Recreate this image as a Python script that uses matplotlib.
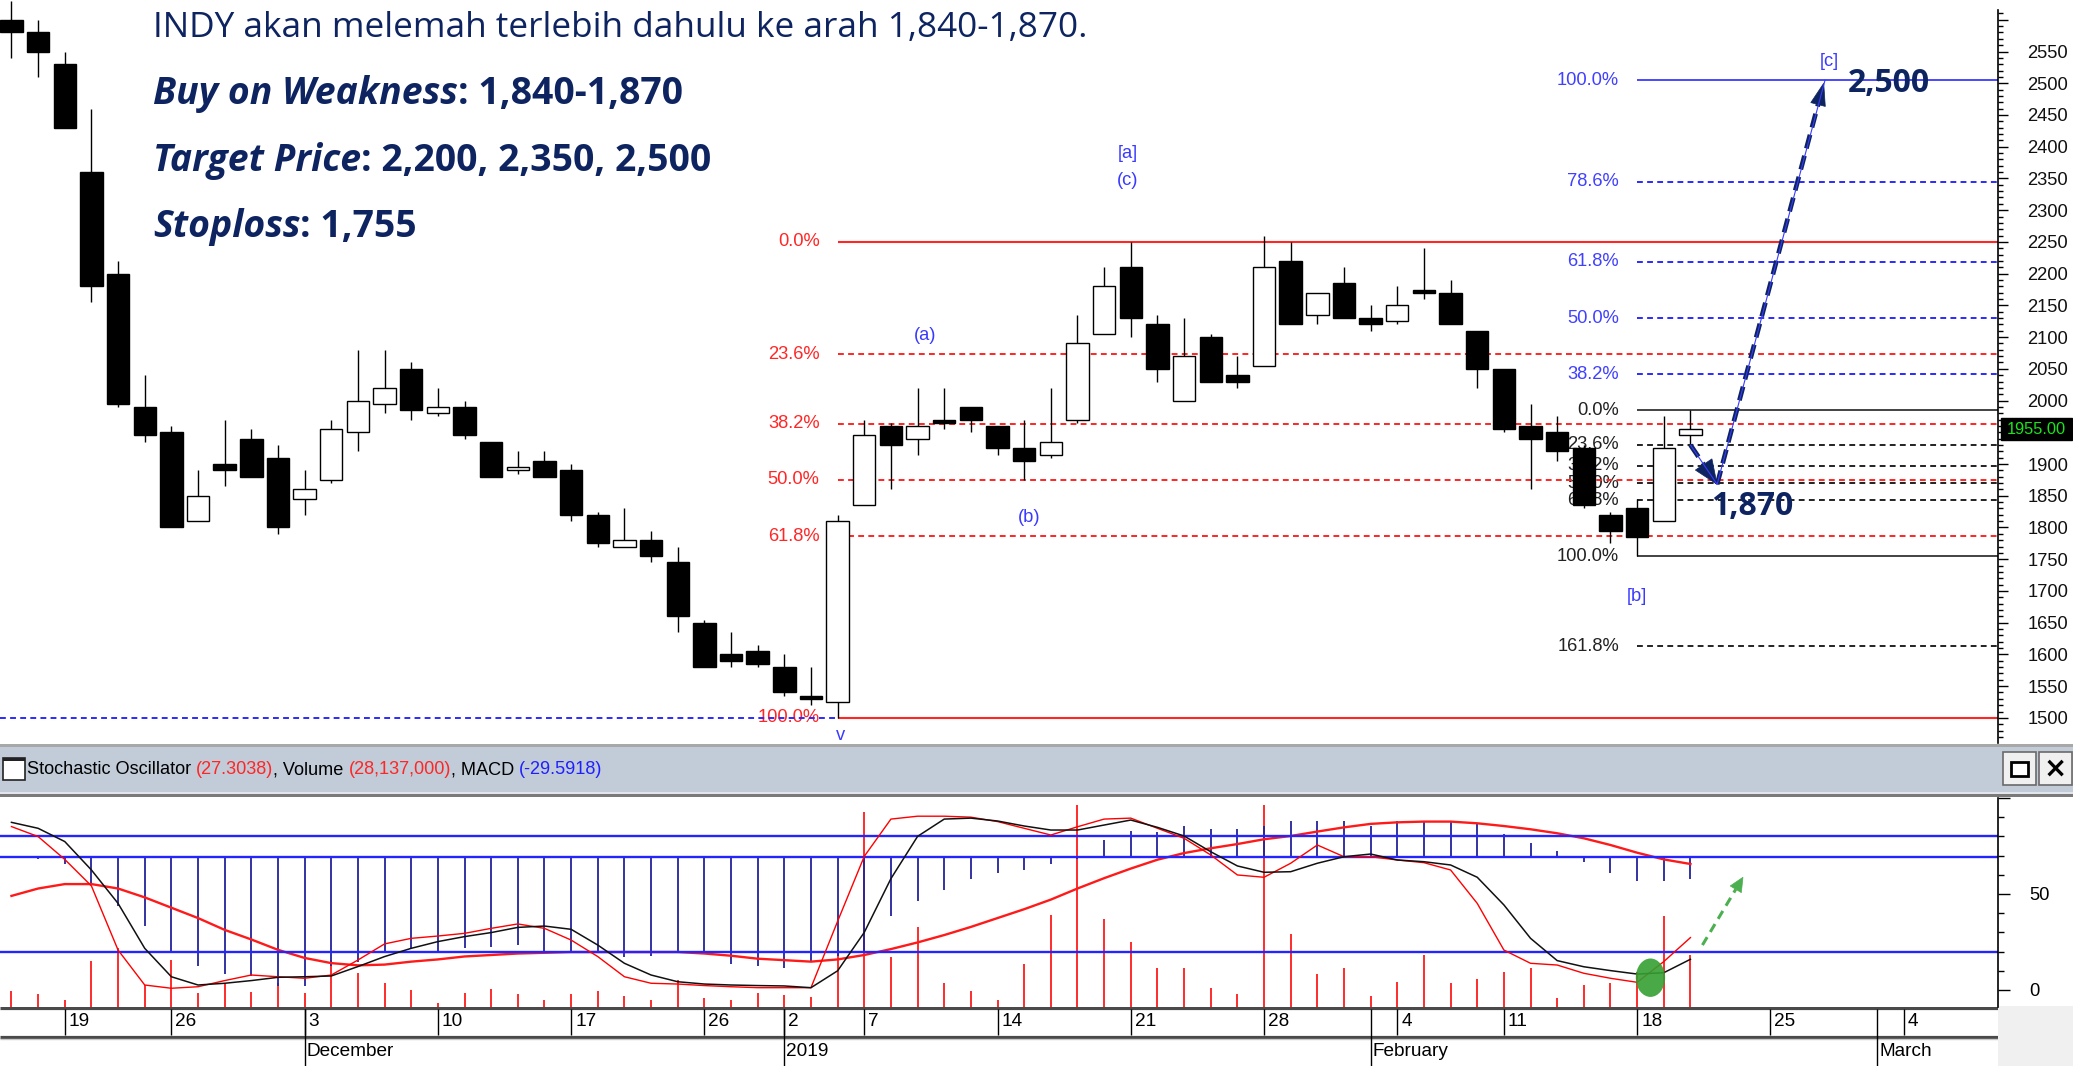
import numpy as np
import matplotlib
matplotlib.use("Agg")
import matplotlib.pyplot as plt
from matplotlib import font_manager
from matplotlib.patches import Rectangle, Ellipse, Polygon
from matplotlib.transforms import blended_transform_factory

# ---------------- data ----------------
start_index = -2          # trading-day index of the first candle (0 = 19 Nov 2018)
opens = [2600, 2580, 2530, 2360, 2200, 1990, 1950, 1810, 1900, 1940,
         1910, 1845, 1875, 1950, 1995, 2050, 1980, 1990, 1935, 1890,
         1905, 1890, 1820, 1770, 1780, 1745, 1650, 1600, 1605, 1580,
         1535, 1525, 1835, 1960, 1940, 1970, 1990, 1960, 1925, 1915,
         1970, 2105, 2210, 2120, 2000, 2100, 2040, 2055, 2220, 2135,
         2185, 2130, 2125, 2175, 2170, 2110, 2050, 1960, 1950, 1925,
         1820, 1830, 1810, 1945]
highs = [2630, 2600, 2550, 2460, 2220, 2040, 1960, 1890, 1970, 1955,
         1930, 1890, 1970, 2080, 2080, 2060, 2020, 2000, 1935, 1920,
         1920, 1900, 1825, 1830, 1795, 1770, 1655, 1635, 1615, 1600,
         1580, 1820, 1970, 1965, 2020, 2020, 1990, 1960, 1970, 2020,
         2135, 2210, 2250, 2135, 2130, 2105, 2070, 2260, 2250, 2170,
         2210, 2150, 2180, 2240, 2190, 2110, 2050, 1995, 1975, 1930,
         1825, 1845, 1975, 1985]
lows = [2540, 2510, 2430, 2155, 1990, 1935, 1800, 1810, 1865, 1880,
        1790, 1820, 1870, 1920, 1980, 1970, 1975, 1940, 1880, 1885,
        1880, 1810, 1770, 1770, 1745, 1635, 1580, 1580, 1580, 1535,
        1520, 1500, 1835, 1860, 1915, 1955, 1950, 1915, 1875, 1910,
        1965, 2105, 2100, 2030, 2000, 2030, 2020, 2055, 2120, 2120,
        2130, 2110, 2120, 2160, 2120, 2020, 1950, 1860, 1905, 1830,
        1775, 1755, 1810, 1930]
closes = [2580, 2550, 2430, 2180, 1995, 1945, 1800, 1850, 1890, 1880,
          1800, 1860, 1955, 2000, 2020, 1985, 1990, 1945, 1880, 1895,
          1880, 1820, 1775, 1780, 1755, 1660, 1580, 1590, 1585, 1540,
          1530, 1810, 1945, 1930, 1960, 1965, 1970, 1925, 1905, 1935,
          2090, 2180, 2130, 2050, 2070, 2030, 2030, 2210, 2120, 2170,
          2130, 2120, 2150, 2170, 2120, 2050, 1955, 1940, 1920, 1835,
          1795, 1785, 1925, 1955]

stoch_k = [85.1, 79.9, 68.0, 54.2, 20.8, 2.6, 0.9, 1.7, 4.9, 7.8,
           6.9, 6.1, 7.8, 15.6, 24.0, 26.9, 28.1, 29.5, 32.1, 34.4,
           32.1, 26.0, 17.4, 6.9, 3.5, 3.1, 2.3, 1.7, 1.2, 1.2,
           1.2, 35.8, 69.6, 89.0, 90.5, 90.5, 90.0, 87.7, 84.2, 80.7,
           85.0, 89.0, 89.5, 84.2, 79.0, 70.3, 59.9, 58.7, 66.0, 75.5,
           69.4, 69.4, 67.7, 66.3, 62.5, 45.1, 20.8, 13.9, 13.0, 8.7,
           6.1, 4.0, 14.8, 27.3]
stoch_d = [87.3, 84.2, 77.3, 62.5, 45.1, 21.7, 6.9, 2.6, 3.5, 4.9,
           6.6, 6.9, 7.3, 12.2, 17.4, 21.7, 25.2, 27.8, 29.9, 32.6,
           33.3, 31.6, 23.4, 13.9, 7.8, 4.3, 3.1, 2.6, 2.3, 2.1,
           1.2, 10.0, 30.0, 58.0, 80.0, 89.0, 89.5, 88.0, 85.4, 83.3,
           83.3, 85.9, 88.5, 84.7, 80.2, 72.0, 64.6, 61.3, 61.6, 66.0,
           69.4, 70.8, 67.7, 66.8, 65.1, 58.7, 44.3, 26.9, 15.3, 12.1,
           10.1, 8.3, 9.0, 16.0]
macd = [-1, -2, -9, -34, -65, -93, -126, -147, -158, -161,
        -174, -174, -147, -142, -126, -124, -126, -122, -121, -119,
        -128, -126, -129, -135, -133, -126, -131, -144, -147, -149,
        -140, -133, -129, -79, -59, -44, -29, -21, -17, -9,
        -2, 24, 36, 34, 43, 38, 39, 43, 50, 50,
        50, 43, 50, 50, 50, 47, 32, 19, 9, -6,
        -21, -32, -32, -29.59]
macd_signal = [-52, -42, -36, -36, -42, -54, -68, -82, -98, -111,
               -125, -136, -143, -146, -145, -141, -138, -134, -132, -130,
               -129, -128, -128, -128, -128, -128, -130, -133, -137, -139,
               -141, -138, -132, -124, -115, -105, -94, -82, -70, -57,
               -42, -28, -15, -3, 6, 12.5, 18.2, 24.7, 29.1, 35.1,
               40.8, 45.5, 47.6, 48.6, 48.6, 46.3, 42.6, 38.2, 32.8, 26,
               16.9, 6.5, -2.6, -8.8]
volume_m = [8.7, 7.0, 3.9, 25.0, 31.8, 11.8, 25.4, 7.3, 12.7, 8.2,
            12.7, 7.6, 25.4, 18.1, 12.7, 9.1, 2.2, 7.6, 9.4, 6.9,
            3.9, 6.9, 8.7, 5.8, 3.9, 14.5, 4.5, 3.9, 7.3, 6.4,
            5.5, 30.8, 106, 27.2, 43.5, 12.7, 8.7, 3.6, 23.2, 49.9,
            110, 47.5, 35.4, 20.9, 20.9, 10.0, 6.9, 110, 39.4, 17.8,
            20.9, 5.8, 13.6, 28.1, 12.7, 14.9, 19.1, 20.9, 4.6, 12.0,
            12.7, 19.0, 49.3, 28.137]

week_tick_pos = [0, 4, 9, 14, 19, 24, 27, 30, 35, 40, 45, 50, 54, 59, 64, 69]
week_tick_labels = ['19', '26', '3', '10', '17', '26', '2', '7', '14', '21',
                    '28', '4', '11', '18', '25', '4']
month_pos = [9, 27, 49, 68]
month_labels = ['December', '2019', 'February', 'March']

# fibonacci tools
red_fib = dict(high=2250, low=1500, start=29, levels=[0, 23.6, 38.2, 50, 61.8, 100])
blk_fib = dict(high=1985, low=1755, start=59, levels=[0, 23.6, 38.2, 50, 61.8, 100, 161.8])
blue_fib = dict(base=1755, length=750, start=59, levels=[38.2, 50, 61.8, 78.6, 100])
last_price = 1955.00

wave_labels = [('[a]', 39.9, 2390), ('(c)', 39.9, 2347), ('(a)', 32.3, 2102),
               ('(b)', 36.2, 1815), ('[b]', 59.0, 1692), ('[c]', 66.2, 2534),
               ('v', 29.1, 1473)]

# ---------------- style ----------------
W, H, DPI = 2073, 1066, 100
names = {f.name for f in font_manager.fontManager.ttflist}
if 'Liberation Sans Narrow' in names:
    NFAM, NK = 'Liberation Sans Narrow', 1.0
else:
    NFAM, NK = 'Liberation Sans', 0.83
NS = 16 * NK
TXT = 'Open Sans' if 'Open Sans' in names else 'DejaVu Sans'
NAVY = '#0d2461'
RED = '#ff2626'

fig = plt.figure(figsize=(W / DPI, H / DPI), dpi=DPI)
fig.patch.set_facecolor('white')


def fxp(px):
    return px / W


def fyp(py):
    return 1 - py / H


def fig_rect(x0, y0, x1, y1, **kw):
    r = Rectangle((fxp(x0), fyp(y1)), (x1 - x0) / W, (y1 - y0) / H,
                  transform=fig.transFigure, **kw)
    fig.add_artist(r)
    return r


X0, X1 = -2.43, 72.54
AX_R = 1998
ax = fig.add_axes([0, fyp(743), fxp(AX_R), 743 / H])
ax.set_xlim(X0, X1)
ax.set_ylim(1460.4, 2631.2)
ax.patch.set_visible(False)

xs = np.arange(len(closes)) + start_index

# candles
for x, o, h, l, c in zip(xs, opens, highs, lows, closes):
    ax.vlines(x, l, h, color='black', lw=1.0, zorder=3)
    face = 'white' if c > o else 'black'
    ax.add_patch(Rectangle((x - 0.42, min(o, c)), 0.84, abs(c - o), facecolor=face,
                           edgecolor='black', lw=1.0, zorder=4))

DOT = (0, (3.0, 2.2))
# red fib
for lv in red_fib['levels']:
    p = red_fib['high'] - lv / 100 * (red_fib['high'] - red_fib['low'])
    solid = lv in (0, 100)
    ax.hlines(p, red_fib['start'], X1, colors=RED, lw=1.5 if solid else 1.4,
              linestyles='-' if solid else DOT, zorder=2)
    ax.text(red_fib['start'] - 0.68, p, f'{lv:.1f}%', color=RED, ha='right', va='center',
            fontsize=NS, zorder=1, family=NFAM)
# blue horizontal dotted line at the low
ax.hlines(red_fib['low'], X0, red_fib['start'], colors='#2a2aff', lw=1.4, linestyles=DOT, zorder=2)
# blue fib (projection)
for lv in blue_fib['levels']:
    p = blue_fib['base'] + lv / 100 * blue_fib['length']
    solid = lv == 100
    ax.hlines(p, blue_fib['start'], X1, colors='#2a2aff', lw=1.2 if solid else 1.4,
              linestyles='-' if solid else DOT, zorder=2)
    ax.text(blue_fib['start'] - 0.68, p, f'{lv:.1f}%', color='#4040ff', ha='right',
            va='center', fontsize=NS, zorder=1, family=NFAM)
# black fib
for lv in blk_fib['levels']:
    p = blk_fib['high'] - lv / 100 * (blk_fib['high'] - blk_fib['low'])
    solid = lv in (0, 100)
    ax.hlines(p, blk_fib['start'], X1, colors='#222222', lw=1.2 if solid else 1.4,
              linestyles='-' if solid else DOT, zorder=2)
    ax.text(blk_fib['start'] - 0.68, p, f'{lv:.1f}%', color='#222222', ha='right',
            va='center', fontsize=NS, zorder=1, family=NFAM)

for s, x, y in wave_labels:
    ax.text(x, y, s, color='#3a3aff', ha='center', va='center', fontsize=NS, zorder=5,
            family=NFAM)

# right price axis
for s in ['top', 'left', 'bottom']:
    ax.spines[s].set_visible(False)
ax.spines['right'].set_bounds(1460.4, 2615)
ax.spines['right'].set_linewidth(1.2)
ax.yaxis.tick_right()
maj = np.arange(1500, 2601, 50)
ax.set_yticks(maj)
ax.set_yticklabels(['' if v in (1950, 2600) else str(v) for v in maj])
ax.set_yticks(np.arange(1470, 2620, 10), minor=True)
ax.tick_params(axis='y', which='major', length=7.5, width=1, pad=13.5, labelsize=NS,
               labelcolor='#111111')
ax.tick_params(axis='y', which='minor', length=3.6, width=1)
ax.set_xticks([])
for lab in ax.get_yticklabels():
    lab.set_fontfamily(NFAM)

bt = blended_transform_factory(ax.transAxes, ax.transData)
ax.add_patch(Rectangle((1.0015, last_price - 17), 0.0355, 34, transform=bt, facecolor='black',
                       edgecolor='black', clip_on=False, zorder=6))
ax.text(1.0015 + 0.0355 / 2, last_price, f'{last_price:.2f}', transform=bt, color='#19e619',
        ha='center', va='center', fontsize=15 * NK * 0.95, clip_on=False, zorder=7, family=NFAM)


# arrows
def arrow(axx, p0, p1, color, lw, dash, head_len, head_w, z=8):
    T = axx.transData
    a = T.transform(p0)
    b = T.transform(p1)
    d = b - a
    u = d / np.hypot(*d)
    n = np.array([-u[1], u[0]])
    base = b - u * head_len
    bd = T.inverted().transform(base)
    axx.plot([p0[0], bd[0]], [p0[1], bd[1]], color=color, lw=lw, ls=(0, dash),
             dash_capstyle='butt', solid_capstyle='butt', zorder=z)
    pts = np.array([b, base + n * head_w / 2, base - n * head_w / 2])
    axx.add_patch(Polygon(T.inverted().transform(pts), closed=True, facecolor=color,
                          edgecolor=color, lw=0.5, zorder=z))


arrow(ax, (61.0, 1930), (62.0, 1868), NAVY, 3.4, (3, 1.6), 24, 20)
arrow(ax, (62.0, 1868), (66.0, 2500), NAVY, 3.4, (3, 1.6), 22, 15)
ax.plot([61.0, 62.0, 66.05], [1930, 1868, 2505], color='#3a3aff', lw=0.8, zorder=9)
ax.text(61.77, 1820, '1,870', color=NAVY, fontsize=23, fontweight='bold', family=TXT,
        ha='left', va='baseline', zorder=9)
ax.text(66.92, 2487, '2,500', color=NAVY, fontsize=23, fontweight='bold', family=TXT,
        ha='left', va='baseline', zorder=9)

# ---------------- header bar ----------------
fig_rect(0, 744, W, 747, facecolor='#a8a8a8', edgecolor='none')
fig_rect(0, 747, W, 792, facecolor='#c1ccd8', edgecolor='none')
fig_rect(0, 792, W, 794, facecolor='#e2e6ec', edgecolor='none')
fig_rect(0, 794, W, 797, facecolor='#7a7a7a', edgecolor='none')
fig_rect(3, 758, 25, 780, facecolor='white', edgecolor='#222222', lw=1.2)
fig_rect(3, 758, 25, 761, facecolor='#222222', edgecolor='none')
fig_rect(2003, 752, 2036, 785, facecolor='#f0f0f0', edgecolor='#6a6a6a', lw=1.2)
fig_rect(2011, 762, 2028, 776, facecolor='white', edgecolor='black', lw=2)
fig_rect(2039, 752, 2072, 785, facecolor='#f0f0f0', edgecolor='#6a6a6a', lw=1.2)
fig.text(fxp(2055.5), fyp(769), '×', ha='center', va='center', fontsize=20, fontweight='bold',
         family='DejaVu Sans', color='black')

renderer = fig.canvas.get_renderer()
pieces = [('Stochastic Oscillator ', 'black'), ('(27.3038)', RED), (', Volume ', 'black'),
          ('(28,137,000)', RED), (', MACD ', 'black'), ('(-29.5918)', '#2020ff')]
hdr = []
for s, col in pieces:
    hdr.append(fig.text(0, fyp(770), s, color=col, fontsize=12, family='Liberation Sans',
                        va='center', ha='left'))
tot = sum(t.get_window_extent(renderer).width for t in hdr)
scale = 578 / tot
xcur = 27
for t in hdr:
    t.set_fontsize(12 * scale)
for t in hdr:
    t.set_x(fxp(xcur))
    xcur += t.get_window_extent(renderer).width

# ---------------- top-left commentary ----------------
t = fig.text(fxp(153), fyp(36.7), 'INDY akan melemah terlebih dahulu ke arah 1,840-1,870.',
             color=NAVY, fontsize=22, family=TXT, va='baseline', ha='left')
t.set_fontsize(22 * 931 / t.get_window_extent(renderer).width)

lines = [('Buy on Weakness', ': 1,840-1,870', 104),
         ('Target Price', ': 2,200, 2,350, 2,500', 170.7),
         ('Stoploss', ': 1,755', 236.7)]
objs = []
for a_, b_, base in lines:
    ta = fig.text(fxp(153), fyp(base), a_, color=NAVY, fontsize=22, family=TXT,
                  fontweight='bold', fontstyle='italic', va='baseline', ha='left')
    tb = fig.text(0, fyp(base), b_, color=NAVY, fontsize=22, family=TXT,
                  fontweight='bold', va='baseline', ha='left')
    objs.append((ta, tb))
w0 = sum(o.get_window_extent(renderer).width for o in objs[0])
fs = 22 * 529 / w0
for ta, tb in objs:
    ta.set_fontsize(fs)
    tb.set_fontsize(fs)
    tb.set_x(fxp(153 + ta.get_window_extent(renderer).width))

# ---------------- lower panel ----------------
axb = fig.add_axes([0, fyp(1006.7), fxp(AX_R), (1006.7 - 797) / H])
axb.set_xlim(X0, X1)
axb.set_ylim(-8.7, 100.5)
axv = axb.twinx()
axv.set_ylim(0, 114.1)
axm = axb.twinx()
axm.set_ylim(-202, 81.9)
for a_ in (axv, axm):
    a_.axis('off')
    a_.patch.set_visible(False)
axv.set_zorder(1)
axm.set_zorder(2)
axb.set_zorder(3)
axb.patch.set_visible(False)

axv.vlines(xs, 0, volume_m, color='#ff1a1a', lw=1.3)
axm.vlines(xs, 0, macd, color='#23239c', lw=1.3)
axm.plot(xs, macd_signal, color='#ff1a1a', lw=1.7)
axm.axhline(0, color='#2424ff', lw=1.7)
axb.axhline(80, color='#2424ff', lw=1.7)
axb.axhline(20, color='#2424ff', lw=1.7)
axb.plot(xs, stoch_k, color='#ff0000', lw=1.0)
axb.plot(xs, stoch_d, color='#111111', lw=1.1)
axb.add_patch(Ellipse((59.5, 6.4), 1.1, 20, facecolor='#35a032', edgecolor='none', alpha=0.9,
                      zorder=8))
arrow(axb, (61.45, 23.4), (62.97, 58.7), '#4caf50', 2.2, (3, 2), 14, 13)

for s in ['top', 'left', 'bottom']:
    axb.spines[s].set_visible(False)
axb.spines['right'].set_bounds(-8.7, 100)
axb.spines['right'].set_linewidth(1.2)
axb.yaxis.tick_right()
axb.set_yticks([0, 50, 100])
axb.set_yticklabels(['0', '50', ''])
axb.set_yticks(np.arange(10, 100, 10), minor=True)
axb.tick_params(axis='y', which='major', length=8.5, width=1, pad=14, labelsize=NS)
axb.tick_params(axis='y', which='minor', length=4.3, width=1)
axb.set_xticks([])
for lab in axb.get_yticklabels():
    lab.set_fontfamily(NFAM)

# ---------------- date rows ----------------
fig_rect(AX_R, 1006, W, H, facecolor='#f0f0f0', edgecolor='none')
axd = fig.add_axes([0, 0, fxp(AX_R), (H - 1006.7) / H])
axd.set_xlim(X0, X1)
axd.set_ylim(H, 1006.7)
axd.axis('off')
axd.hlines(1007.8, X0, X1, colors='#4a4a4a', lw=2.3)
axd.hlines(1036.5, X0, X1, colors='#4a4a4a', lw=2.3)
axd.hlines(1039.3, X0, X1, colors='#c8c8c8', lw=1.0)
axd.vlines(week_tick_pos, 1009, 1035, colors='black', lw=1.0)
axd.vlines(month_pos, 1009, H, colors='black', lw=1.0)
for p, s in zip(week_tick_pos, week_tick_labels):
    axd.text(p + 0.15, 1022, s, ha='left', va='center', fontsize=16.5 * NK, color='black',
             family=NFAM)
for p, s in zip(month_pos, month_labels):
    axd.text(p + 0.08, 1052, s, ha='left', va='center', fontsize=16.5 * NK, color='black',
             family=NFAM)

fig.savefig('out.png', dpi=DPI)
